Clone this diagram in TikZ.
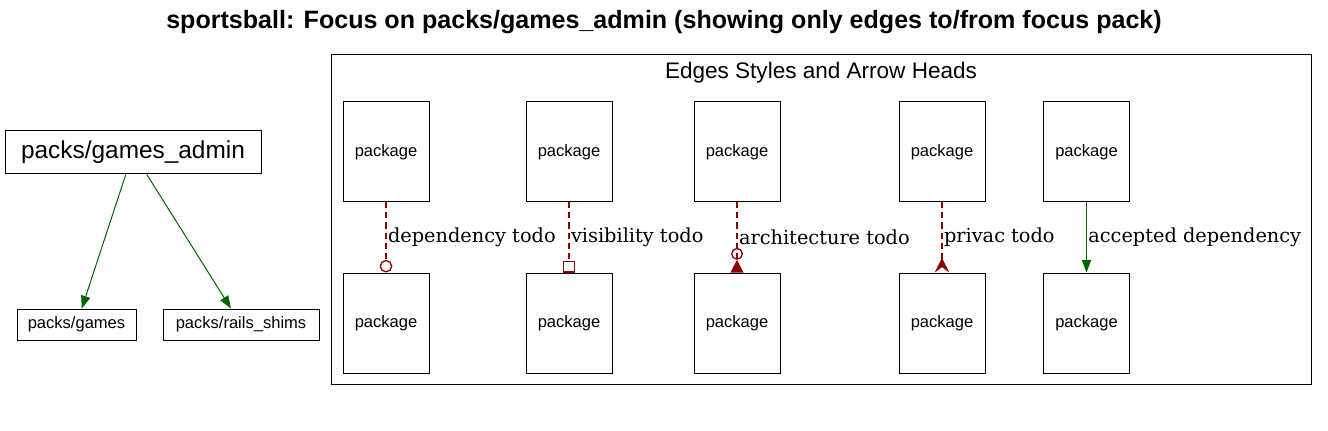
\documentclass[tikz,border=0pt]{standalone}
\usepackage{fontspec}
\newfontfamily\arialfont{Liberation Sans}
\newfontfamily\seriffont{DejaVu Serif}
\usetikzlibrary{arrows.meta}

\definecolor{okgreen}{HTML}{006400}
\definecolor{todored}{HTML}{8B0000}

\begin{document}
\begin{tikzpicture}[x=0.75pt, y=-0.75pt, line width=0.75pt,
        pkg/.style={draw, font=\arialfont\fontsize{12.4}{14}\selectfont, inner sep=0pt},
        pbox/.style={pkg, minimum width=64.5pt, minimum height=75pt},
        ok/.style={draw=okgreen, -{Triangle[length=9.5pt, width=7pt]}},
        todo/.style={draw=todored, line width=1pt, dash pattern=on 4.5pt off 3pt},
        lbl/.style={midway, right, inner sep=1pt, font=\seriffont\fontsize{14.5}{16}\selectfont}]
        \useasboundingbox (0,0) rectangle (1328,431);

        % Title
        \node[font=\arialfont\bfseries\fontsize{18.8}{22}\selectfont] (title) at (664,22)
            {sportsball: Focus on packs/games\_admin (showing only edges to/from focus pack)};

        % Focus pack
        \node[pkg, minimum width=192pt, minimum height=32.25pt, font=\arialfont\fontsize{18.3}{20}\selectfont] (admin) at (133,152.5) {packs/games\_admin};
        \node[pkg, minimum width=89.25pt, minimum height=23.25pt] (games) at (76.5,324.5) {packs/games};
        \node[pkg, minimum width=117pt, minimum height=23.25pt] (shims) at (241,324.5) {packs/rails\_shims};

        \draw[ok] (admin) -- (games);
        \draw[ok] (admin) -- (shims);

        % Legend
        \draw (331,55) rectangle (1311,384);
        \node[font=\arialfont\fontsize{16.9}{19}\selectfont] (legend) at (821,73) {Edges Styles and Arrow Heads};

        \node[pbox] (depTop) at (386,152) {package};
        \node[pbox] (depBot) at (386,323) {package};
        \node[pbox] (visTop) at (569,152) {package};
        \node[pbox] (visBot) at (569,323) {package};
        \node[pbox] (archTop) at (737,152) {package};
        \node[pbox] (archBot) at (737,323) {package};
        \node[pbox] (privTop) at (942,152) {package};
        \node[pbox] (privBot) at (942,323) {package};
        \node[pbox] (accTop) at (1086.5,152) {package};
        \node[pbox] (accBot) at (1086.5,323) {package};

        % Edges
        \draw[todo, -{Circle[open, length=9.5pt, width=9.5pt]}] (depTop) -- (depBot) node[lbl] {dependency todo};
        \draw[todo, -{Square[open, length=9pt, width=9pt]}] (visTop) -- (visBot) node[lbl] {visibility todo};
        \draw[todo, -{Circle[open, length=9pt, width=9pt] Triangle[reversed, length=9.5pt, width=9.5pt]}] (archTop) -- (archBot) node[lbl] {architecture todo};
        \draw[todo, -{Stealth[reversed, length=11pt, width=11pt, inset=4pt]}] (privTop) -- (privBot) node[lbl] {privac todo};
        \draw[ok] (accTop) -- (accBot) node[lbl] {accepted dependency};
    \end{tikzpicture}
\end{document}
